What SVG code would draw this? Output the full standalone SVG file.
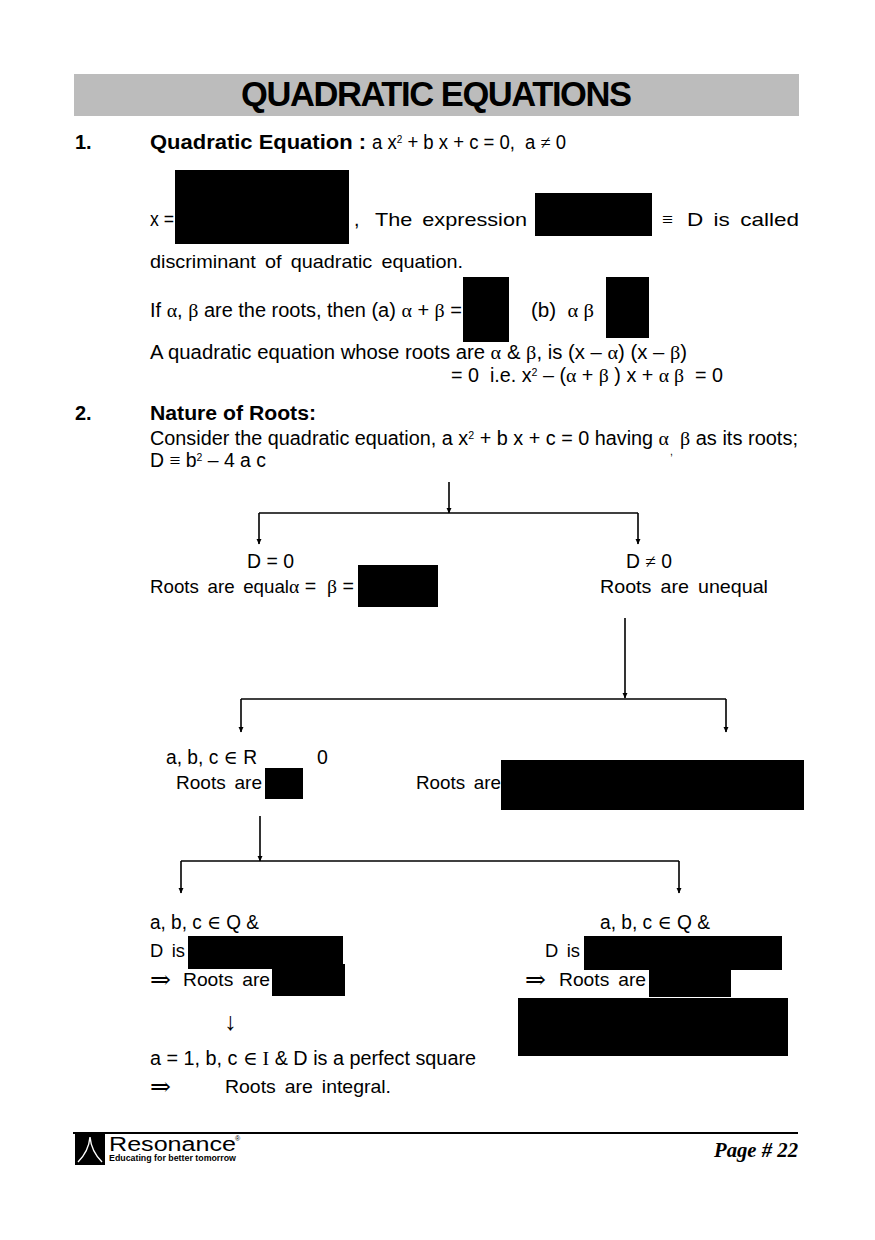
<svg xmlns="http://www.w3.org/2000/svg" width="875" height="1240" viewBox="0 0 875 1240">
<style>
text{font-family:"Liberation Sans",Arial,sans-serif;font-size:19.5px;fill:#000;white-space:pre}
.b{font-weight:bold;font-size:20px}
.g{font-family:"Liberation Serif","DejaVu Serif",serif;font-size:19.5px}
.s{font-size:10.5px}
.w{font-size:19px;word-spacing:3.5px}
.ar{font-family:"Liberation Serif","DejaVu Serif",serif;font-size:25px}
.k{fill:#000}
.c{fill:none;stroke:#000;stroke-width:1.6}
</style>
<defs><marker id="a" markerUnits="userSpaceOnUse" markerWidth="6" markerHeight="7" refX="5.5" refY="3.5" orient="auto"><path d="M0 .8L6 3.5L0 6.2Z" fill="#000"/></marker></defs>
<rect width="875" height="1240" fill="#fff"/>
<g id="title"><rect x="74" y="74" width="725" height="42" fill="#bcbcbc"/>
<text x="241" y="106" class="b" style="font-size:34.5px" textLength="391">QUADRATIC EQUATIONS</text></g>

<g id="section-1">
<text x="75" y="149" class="b">1.</text>
<text x="150" y="149" class="b" textLength="216" lengthAdjust="spacingAndGlyphs">Quadratic Equation :</text>
<text x="372" y="149" textLength="143" lengthAdjust="spacingAndGlyphs">a x<tspan class="s" dy="-6">2</tspan><tspan dy="6"> + b x + c = 0,</tspan></text>
<text x="525" y="149" textLength="41" lengthAdjust="spacingAndGlyphs">a <tspan class="g">≠</tspan> 0</text>
<text x="150" y="226" textLength="24" lengthAdjust="spacingAndGlyphs">x =</text><rect class="k" x="175" y="170" width="174" height="74"/>
<text x="354" y="226">,</text>
<text x="375" y="226" class="w" textLength="152" lengthAdjust="spacingAndGlyphs">The expression</text>
<rect class="k" x="535" y="193" width="117" height="43"/>
<text x="662" y="226" class="g">≡</text><text x="687" y="226" class="w" textLength="112" lengthAdjust="spacingAndGlyphs">D is called</text>
<text x="150" y="268" class="w" textLength="313" lengthAdjust="spacingAndGlyphs">discriminant of quadratic equation.</text>
<text x="150" y="317" textLength="312" lengthAdjust="spacingAndGlyphs">If <tspan class="g">α</tspan>, <tspan class="g">β</tspan> are the roots, then (a) <tspan class="g">α</tspan> + <tspan class="g">β</tspan> =</text>
<rect class="k" x="463" y="277" width="46" height="65"/>
<text x="531" y="317" textLength="63" lengthAdjust="spacingAndGlyphs">(b)  <tspan class="g">α β</tspan></text>
<rect class="k" x="606" y="277" width="43" height="61"/>
<text x="150" y="359" textLength="537" lengthAdjust="spacingAndGlyphs">A quadratic equation whose roots are <tspan class="g">α</tspan> &amp; <tspan class="g">β</tspan>, is (x – <tspan class="g">α</tspan>) (x – <tspan class="g">β</tspan>)</text>
<text x="451" y="382" textLength="272" lengthAdjust="spacingAndGlyphs">= 0  i.e. x<tspan class="s" dy="-6">2</tspan><tspan dy="6"> – (</tspan><tspan class="g">α</tspan> + <tspan class="g">β</tspan> ) x + <tspan class="g">α β</tspan>  = 0</text>
</g>

<g id="section-2">
<text x="75" y="420" class="b">2.</text>
<text x="150" y="420" class="b" textLength="166" lengthAdjust="spacingAndGlyphs">Nature of Roots:</text>
<text x="150" y="445" textLength="519" lengthAdjust="spacingAndGlyphs">Consider the quadratic equation, a x<tspan class="s" dy="-6">2</tspan><tspan dy="6"> + b x + c = 0 having </tspan><tspan class="g">α</tspan></text>
<text x="680" y="445" textLength="118" lengthAdjust="spacingAndGlyphs"><tspan class="g">β</tspan> as its roots;</text>
<text x="670" y="455" class="s">,</text>
<text x="150" y="467" textLength="116" lengthAdjust="spacingAndGlyphs">D <tspan class="g">≡</tspan> b<tspan class="s" dy="-6">2</tspan><tspan dy="6"> – 4 a c</tspan></text>
</g>

<g id="connectors">
<path class="c" d="M449 482V513" marker-end="url(#a)"/>
<path class="c" d="M259 513H638"/><path class="c" d="M259 513V544" marker-end="url(#a)"/><path class="c" d="M638 513V544" marker-end="url(#a)"/>
<path class="c" d="M625 618V698" marker-end="url(#a)"/>
<path class="c" d="M241 699H726"/><path class="c" d="M241 699V732" marker-end="url(#a)"/><path class="c" d="M726 699V732" marker-end="url(#a)"/>
<path class="c" d="M260 816V861" marker-end="url(#a)"/>
<path class="c" d="M181 861H679"/><path class="c" d="M181 861V893" marker-end="url(#a)"/><path class="c" d="M679 861V893" marker-end="url(#a)"/>
</g>

<g id="node-d-zero">
<text x="247" y="568" textLength="47" lengthAdjust="spacingAndGlyphs">D = 0</text>
<text x="150" y="593" class="w" textLength="139" lengthAdjust="spacingAndGlyphs">Roots are equal</text>
<text x="289" y="593" textLength="65" lengthAdjust="spacingAndGlyphs"><tspan class="g">α</tspan> =  <tspan class="g">β</tspan> =</text>
<rect class="k" x="358" y="565" width="80" height="42"/>
</g>
<g id="node-d-nonzero">
<text x="626" y="568" textLength="46" lengthAdjust="spacingAndGlyphs">D <tspan class="g">≠</tspan> 0</text>
<text x="600" y="593" class="w" textLength="168" lengthAdjust="spacingAndGlyphs">Roots are unequal</text>
</g>
<g id="node-real">
<text x="166" y="764" textLength="91" lengthAdjust="spacingAndGlyphs">a, b, c <tspan class="g">∈</tspan> R</text>
<text x="317" y="764">0</text>
<text x="176" y="789" class="w" textLength="86" lengthAdjust="spacingAndGlyphs">Roots are</text>
<rect class="k" x="265" y="768" width="38" height="31"/>
</g>
<g id="node-complex">
<text x="416" y="789" class="w" textLength="85" lengthAdjust="spacingAndGlyphs">Roots are</text>
<rect class="k" x="501" y="760" width="303" height="50"/>
</g>
<g id="node-rational-left">
<text x="150" y="929" textLength="109" lengthAdjust="spacingAndGlyphs">a, b, c <tspan class="g">∈</tspan> Q &amp;</text>
<text x="150" y="957" class="w" textLength="35" lengthAdjust="spacingAndGlyphs">D is</text>
<rect class="k" x="188" y="936" width="155" height="33"/>
<text x="150" y="988" class="ar" textLength="21" lengthAdjust="spacingAndGlyphs">⇒</text>
<text x="183" y="986" class="w" textLength="87" lengthAdjust="spacingAndGlyphs">Roots are</text>
<rect class="k" x="272" y="964" width="73" height="32"/>
<text x="224" y="1030" class="ar">↓</text>
<text x="150" y="1065" textLength="326" lengthAdjust="spacingAndGlyphs">a = 1, b, c <tspan class="g">∈ I</tspan> &amp; D is a perfect square</text>
<text x="150" y="1095" class="ar" textLength="21" lengthAdjust="spacingAndGlyphs">⇒</text>
<text x="225" y="1093" class="w" textLength="166" lengthAdjust="spacingAndGlyphs">Roots are integral.</text>
</g>
<g id="node-rational-right">
<text x="600" y="929" textLength="110" lengthAdjust="spacingAndGlyphs">a, b, c <tspan class="g">∈</tspan> Q &amp;</text>
<text x="545" y="957" class="w" textLength="35" lengthAdjust="spacingAndGlyphs">D is</text>
<rect class="k" x="584" y="936" width="198" height="34"/>
<text x="525" y="988" class="ar" textLength="21" lengthAdjust="spacingAndGlyphs">⇒</text>
<text x="559" y="986" class="w" textLength="87" lengthAdjust="spacingAndGlyphs">Roots are</text>
<rect class="k" x="649" y="970" width="82" height="27"/>
<rect class="k" x="518" y="998" width="270" height="58"/>
</g>

<g id="footer">
<path d="M73 1133H798" stroke="#000" stroke-width="2"/>
<rect class="k" x="75" y="1134" width="30" height="31"/>
<path d="M90 1137C89 1148 84 1156 78 1162M90 1137C91 1148 96 1156 102 1162" fill="none" stroke="#fff" stroke-width="1.4"/>
<text x="109" y="1151" style="font-size:20px" textLength="127" lengthAdjust="spacingAndGlyphs">Resonance</text>
<text x="235" y="1141" style="font-size:7px">®</text>
<text x="109" y="1161" class="b" style="font-size:9px" textLength="127" lengthAdjust="spacingAndGlyphs">Educating for better tomorrow</text>
<text x="798" y="1157" text-anchor="end" style="font-family:'Liberation Serif',serif;font-weight:bold;font-style:italic;font-size:20.5px" textLength="84" lengthAdjust="spacingAndGlyphs">Page # 22</text>
</g>
</svg>
